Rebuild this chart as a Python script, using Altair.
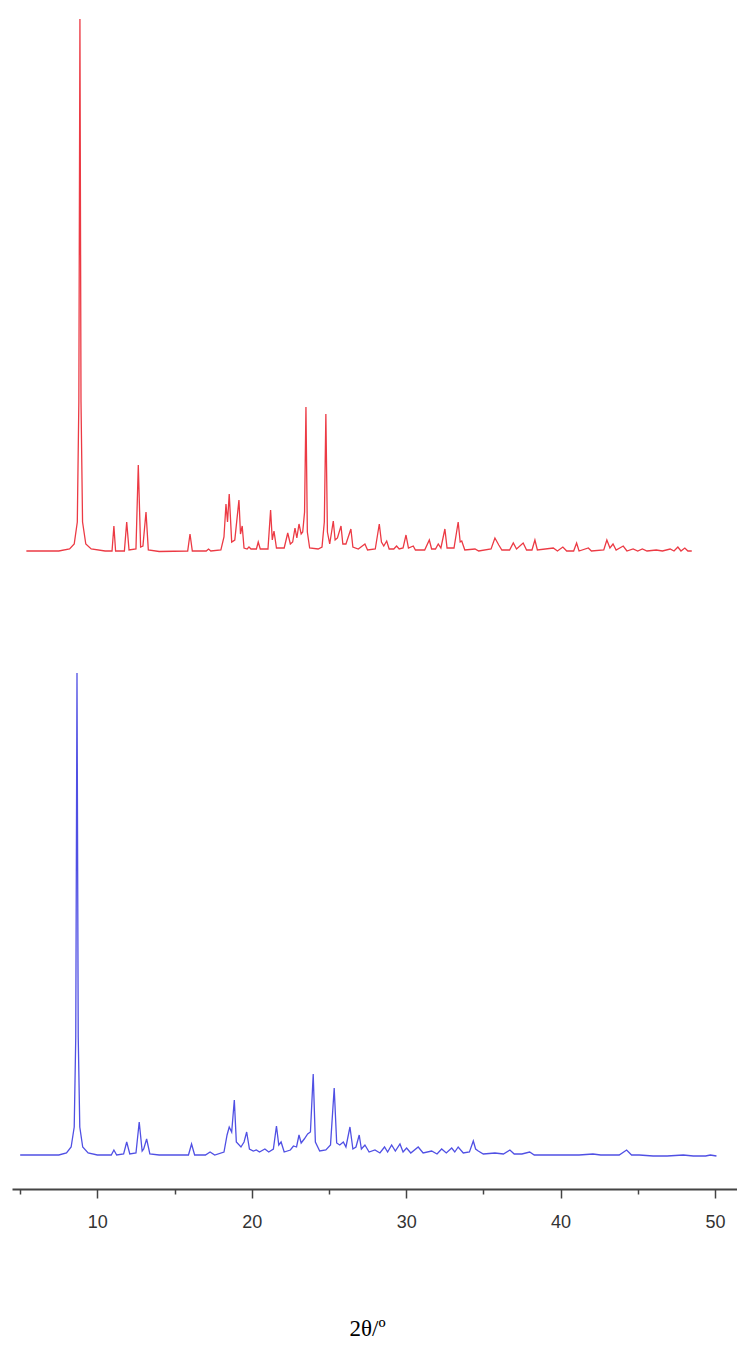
import altair as alt
import pandas as pd

# ---- data (2theta in degrees, intensity in arbitrary units) ----
red_2theta = [5.4, 7.5, 8.2, 8.5, 8.7, 8.80, 8.87, 8.94, 9.04, 9.25, 9.6, 10.5,
              10.95, 11.07, 11.18, 11.75, 11.9, 12.05, 12.5, 12.65, 12.8, 12.95, 13.15, 13.3,
              14.0, 15.85, 16.0, 16.15, 17.05, 17.2, 17.35,
              18.0, 18.2, 18.33, 18.43, 18.54, 18.7, 18.9, 19.17, 19.27, 19.38, 19.5, 19.7, 19.82,
              19.95, 20.3, 20.42, 20.55, 21.05, 21.22, 21.33, 21.44, 21.6, 22.1, 22.33, 22.5, 22.65,
              22.8, 22.92, 23.06, 23.2, 23.3, 23.42, 23.51, 23.6, 23.75, 24.3, 24.55, 24.7, 24.8,
              24.9, 25.05, 25.28, 25.4, 25.55, 25.78, 25.9, 26.1, 26.42, 26.55, 26.9, 27.33, 27.5,
              28.0, 28.26, 28.4, 28.55, 28.74, 28.9, 29.2, 29.38, 29.55, 29.8, 29.99, 30.15, 30.46,
              30.6, 31.2, 31.5, 31.65, 31.9, 32.08, 32.25, 32.51, 32.65, 33.1, 33.37, 33.5, 33.6,
              33.8, 34.46, 34.7, 35.5, 35.75, 36.0, 36.2, 36.7, 36.94, 37.15, 37.58, 37.8, 38.15,
              38.34, 38.5, 39.53, 39.8, 40.15, 40.4, 40.85, 41.04, 41.2, 41.8, 42.0, 42.8, 43.0,
              43.2, 43.4, 43.6, 44.06, 44.3, 44.7, 45.0, 45.3, 45.6, 46.2, 46.6, 47.1, 47.35, 47.6,
              47.8, 48.05, 48.25, 48.5]
red_intensity = [1, 1, 3, 8, 30, 150, 533, 150, 30, 8, 3, 1,
                 1, 26, 1, 1, 30, 2, 3, 87, 5, 6, 40, 2,
                 0.5, 1, 18, 1, 1, 3, 1,
                 2, 15, 48, 30, 58, 10, 12, 52, 18, 26, 4, 3, 5,
                 3, 3, 10, 3, 3, 42, 12, 21, 4, 4, 19, 8, 10,
                 24, 14, 28, 18, 20, 40, 145, 20, 4, 3, 5, 30, 138,
                 20, 8, 31, 12, 14, 26, 8, 8, 23, 5, 3, 8, 2,
                 3, 28, 10, 6, 11, 3, 3, 6, 3, 4, 17, 4, 6,
                 2, 2, 12, 3, 3, 8, 4, 23, 4, 4, 30, 10, 11,
                 2, 3, 1, 3, 14, 7, 2, 2, 9, 3, 9, 2, 2,
                 12, 2, 4, 1, 5, 1, 1, 9, 1, 4, 1, 2, 12,
                 4, 8, 2, 6, 1, 3, 1, 3, 1, 2, 1, 3, 1, 5,
                 1, 4, 1, 1]

blue_2theta = [5.0, 7.5, 8.0, 8.3, 8.5, 8.6, 8.68, 8.76, 8.86, 9.05, 9.4, 10.0,
               10.9, 11.07, 11.25, 11.7, 11.9, 12.1, 12.5, 12.71, 12.9, 13.0, 13.19, 13.4,
               14.0, 15.9, 16.1, 16.3, 17.0, 17.3, 17.6, 18.2, 18.4, 18.54, 18.7, 18.87, 19.0,
               19.3, 19.5, 19.67, 19.85, 20.1, 20.3, 20.5, 20.85, 21.1, 21.4, 21.6, 21.75, 21.9,
               22.1, 22.5, 22.7, 22.9, 23.06, 23.2, 23.4, 23.62, 23.8, 23.98, 24.12, 24.4, 24.8,
               25.1, 25.34, 25.5, 25.7, 25.93, 26.1, 26.36, 26.55, 26.75, 26.96, 27.1, 27.33, 27.6,
               27.98, 28.3, 28.6, 28.8, 29.06, 29.3, 29.6, 29.8, 30.03, 30.3, 30.78, 31.1, 31.65,
               32.0, 32.3, 32.6, 32.95, 33.15, 33.37, 33.7, 34.1, 34.35, 34.5, 34.67, 35.0, 35.75,
               36.3, 36.72, 37.0, 37.5, 38.0, 38.3, 39.3, 40.0, 40.6, 41.2, 42.1, 42.6, 43.2,
               43.8, 44.28, 44.6, 45.1, 46.0, 46.9, 47.95, 48.6, 49.4, 49.7, 50.1]
blue_intensity = [2, 2, 4, 10, 30, 120, 484, 120, 30, 10, 4, 2,
                  2, 7, 2, 3, 15, 3, 4, 35, 6, 8, 18, 3,
                  2, 2, 13, 2, 2, 5, 2, 5, 22, 30, 25, 57, 15,
                  10, 15, 25, 8, 6, 7, 5, 8, 5, 8, 31, 12, 15,
                  5, 7, 11, 10, 22, 14, 18, 23, 25, 83, 15, 6, 7,
                  12, 69, 14, 12, 15, 10, 30, 8, 10, 22, 8, 12, 5,
                  7, 4, 10, 5, 12, 6, 13, 5, 9, 4, 10, 4, 6,
                  3, 8, 4, 9, 5, 10, 4, 5, 16, 8, 6, 3, 4,
                  3, 7, 3, 3, 5, 2, 2, 2, 2, 2, 3, 2, 2,
                  2, 7, 2, 2, 1, 1, 2, 1, 1, 2, 1]

x_ticks = [5, 10, 15, 20, 25, 30, 35, 40, 45, 50]

red_df = pd.DataFrame({"two_theta": red_2theta, "intensity": red_intensity})
blue_df = pd.DataFrame({"two_theta": blue_2theta, "intensity": blue_intensity})

X_DOMAIN = [4.47, 51.43]
W = 725

red = alt.Chart(red_df).mark_line(color="#EC3A44", strokeWidth=1.3, interpolate="linear").encode(
    x=alt.X("two_theta:Q", scale=alt.Scale(domain=X_DOMAIN, nice=False, zero=False), axis=None),
    y=alt.Y("intensity:Q", scale=alt.Scale(domain=[0, 534], nice=False, zero=False), axis=None),
).properties(width=W, height=534)

blue = alt.Chart(blue_df).mark_line(color="#5050E4", strokeWidth=1.3, interpolate="linear").encode(
    x=alt.X(
        "two_theta:Q",
        scale=alt.Scale(domain=X_DOMAIN, nice=False, zero=False),
        title="2θ/º",
        axis=alt.Axis(
            values=x_ticks,
            labelExpr="datum.value % 10 === 0 ? datum.label : ''",
            tickSize={"condition": {"test": "datum.value % 10 === 0", "value": 9}, "value": 5},
            offset=32,
            grid=False,
            titleX=355,
        ),
    ),
    y=alt.Y("intensity:Q", scale=alt.Scale(domain=[0, 484], nice=False, zero=False), axis=None),
).properties(width=W, height=484)

chart = alt.vconcat(red, blue, spacing=115).resolve_scale(y="independent").properties(
    padding={"left": 4, "top": 8, "right": 0, "bottom": 0}
).configure_view(stroke=None).configure_axis(
    domainColor="#444444",
    domainWidth=2,
    tickColor="#444444",
    tickWidth=1.5,
    labelFont="Liberation Sans",
    labelFontSize=18,
    labelColor="#333333",
    labelPadding=15,
    titleFont="Liberation Serif",
    titleFontSize=23,
    titleFontWeight="normal",
    titleColor="#000000",
    titlePadding=86,
)

chart.save("out.html", embed_options={"renderer": "svg", "actions": False})
